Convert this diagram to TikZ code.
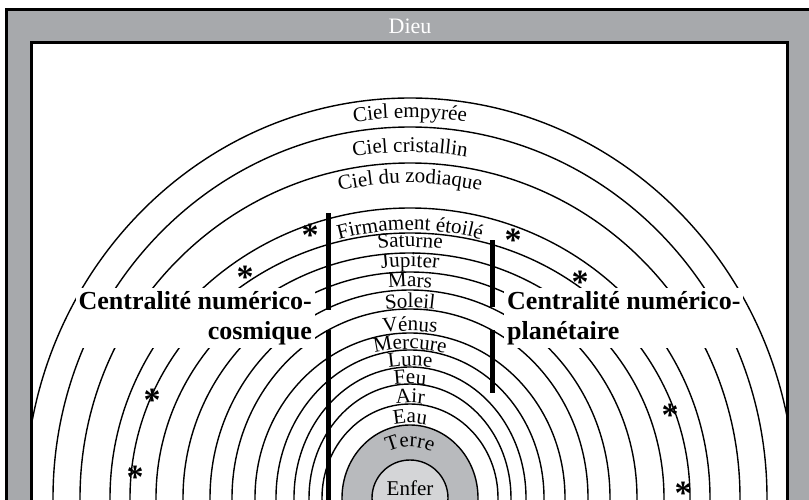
\documentclass[tikz,border=0pt]{standalone}
\usepackage{fontspec}
\setmainfont{Liberation Serif}
\usetikzlibrary{decorations.text}

\definecolor{framegray}{RGB}{167,169,172}
\definecolor{terregray}{RGB}{184,186,189}
\definecolor{enfergray}{RGB}{212,213,215}

\newcommand\ringfont{\fontsize{21}{21}\selectfont}
% label set on a circular baseline round the centre
\newcommand\ringlabel[2]{%
  \path[decorate, decoration={text along path, text align=center,
      text={|\ringfont|#2}}]
    (410,1) ++(180:#1) arc[start angle=180, end angle=0, radius=#1];}

\begin{document}
\begin{tikzpicture}[x=1pt, y=1pt,
    ring/.style={draw=black, line width=1.4pt},
    bar/.style={line width=5pt},
    centr/.style={font=\fontsize{26}{30}\selectfont\bfseries, fill=white, inner sep=3pt},
    star/.style={font=\fontsize{34}{34}\selectfont\bfseries, inner sep=0pt,
      text height=0.36em, text depth=0pt}]
\useasboundingbox (0,0) rectangle (809,499);
\clip (0,0) rectangle (809,499);

% frame
\fill[framegray] (6,-20) rectangle (830,489.5);
\draw[line width=3pt] (6,-20) -- (6,489.5) -- (830,489.5);
\filldraw[fill=white, line width=3pt] (31.5,-20) rectangle (787.5,456.5);
\node[font=\fontsize{22}{22}\selectfont, text=white] (dieu) at (410,473) {Dieu};

\begin{scope}
\clip (33,-20) rectangle (786,455);
% spheres
\foreach \b/\a in {400/385, 371/357, 335/330, 290/300, 265/280, 245/254,
    226/227, 208/200, 189/178, 165/155, 148/134, 131/116, 114/101, 94/88}
  \draw[ring] (410,1) ellipse [x radius=\a, y radius=\b];
\draw[ring, fill=terregray] (410,1) ellipse [x radius=68, y radius=73];
\draw[ring, fill=enfergray] (410,1) circle [radius=38];
\end{scope}

% labels of the spheres
\ringlabel{380}{Ciel empyrée}
\ringlabel{346}{Ciel cristallin}
\ringlabel{315}{Ciel du zodiaque}
\ringlabel{268}{Firmament étoilé}
\ringlabel{251}{Saturne}
\ringlabel{231}{Jupiter}
\ringlabel{211}{Mars}
\ringlabel{190}{Soleil}
\ringlabel{167}{Vénus}
\ringlabel{149}{Mercure}
\ringlabel{132}{Lune}
\ringlabel{114}{Feu}
\ringlabel{95}{Air}
\ringlabel{75}{Eau}
\ringlabel{51}{Terre}
\node[font=\ringfont, anchor=base] (enfer) at (410,4) {Enfer};

% bars
\draw[bar] (328,286) -- (328,189);
\draw[bar] (328,169) -- (328,-20);
\draw[bar] (492,259) -- (492,192);
\draw[bar] (492,169) -- (492,106);

% side texts
\node[centr, align=right, anchor=north east] (cosmique) at (315,211)
  {Centralité numérico-\\cosmique};
\node[centr, align=left, anchor=north west] (planetaire) at (504,211)
  {Centralité numérico-\\planétaire};

% stars
\node[star] (s1) at (310,266) {\raisebox{-0.34em}{*}};
\node[star] (s2) at (513,261) {\raisebox{-0.34em}{*}};
\node[star] (s3) at (245,224) {\raisebox{-0.34em}{*}};
\node[star] (s4) at (580,219) {\raisebox{-0.34em}{*}};
\node[star] (s5) at (152,101) {\raisebox{-0.34em}{*}};
\node[star] (s6) at (670,86) {\raisebox{-0.34em}{*}};
\node[star] (s7) at (135,24) {\raisebox{-0.34em}{*}};
\node[star] (s8) at (683,8) {\raisebox{-0.34em}{*}};
\end{tikzpicture}
\end{document}
